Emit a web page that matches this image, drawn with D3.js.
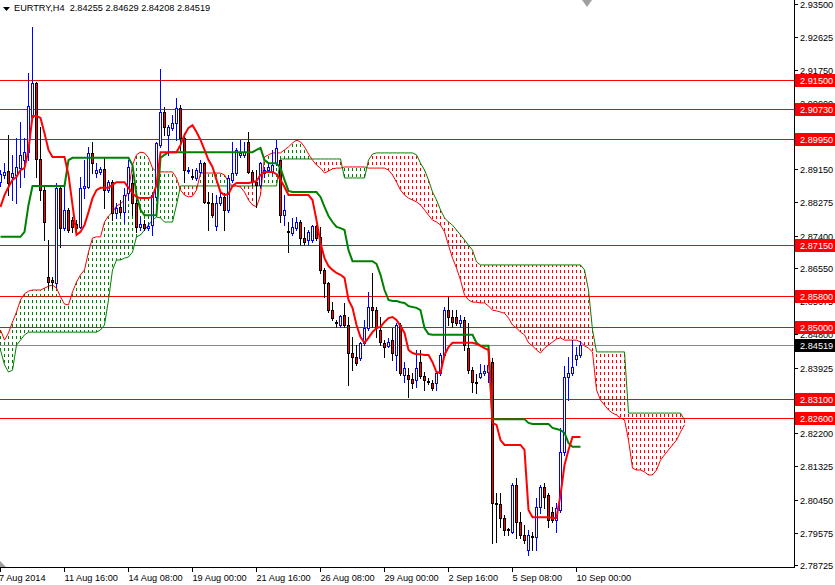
<!DOCTYPE html>
<html><head><meta charset="utf-8">
<script src="https://cdn.jsdelivr.net/npm/d3@7"></script>
<style>
body{margin:0;background:#fff;}
svg{display:block;}
text{font-family:"Liberation Sans",Arial,sans-serif;font-size:9.2px;}
</style>
</head><body><svg id="c" width="835" height="585"></svg>
<script>
const header = "EURTRY,H4  2.84255 2.84629 2.84208 2.84519";
const open = [2.8881,2.8900,2.8910,2.8895,2.8900,2.8918,2.8939,2.8960,2.9053,2.9142,
2.8942,2.8860,2.8631,2.8624,2.8615,2.8866,2.8760,2.8808,2.8781,2.8771,
2.8763,2.8866,2.8868,2.8958,2.8905,2.8908,2.8916,2.8860,2.8881,2.8800,
2.8816,2.8802,2.8852,2.8879,2.8826,2.8763,2.8771,2.8760,2.8768,2.8842,
2.8979,2.9066,2.9005,2.9024,2.9037,2.9076,2.8997,2.8910,2.8897,2.8892,
2.8908,2.8931,2.8829,2.8826,2.8766,2.8826,2.8842,2.8808,2.8887,2.8905,
2.8953,2.8953,2.8987,2.8908,2.8881,2.8874,2.8905,2.8913,2.8908,2.8931,
2.8939,2.8795,2.8753,2.8747,2.8760,2.8776,2.8734,2.8729,2.8729,2.8766,
2.8737,2.8650,2.8616,2.8544,2.8513,2.8505,2.8531,2.8505,2.8431,2.8421,
2.8418,2.8458,2.8497,2.8552,2.8544,2.8492,2.8458,2.8450,2.8465,2.8426,
2.8505,2.8373,2.8373,2.8363,2.8360,2.8408,2.8371,2.8358,2.8352,2.8352,
2.8379,2.8426,2.8544,2.8526,2.8526,2.8510,2.8518,2.8444,2.8386,2.8355,
2.8368,2.8379,2.8381,2.8408,2.8036,2.8034,2.7997,2.7968,2.7960,2.8084,
2.7986,2.7952,2.7913,2.7949,2.7947,2.8026,2.8078,2.8057,2.8013,2.7991,
2.8018,2.8170,2.8368,2.8379,2.8415,2.84255];
const high = [2.8913,2.8931,2.9005,2.8953,2.8997,2.9039,2.8997,2.9168,2.9290,2.9145,
2.9026,2.8874,2.8729,2.8632,2.8879,2.8874,2.8874,2.8813,2.8789,2.8781,
2.8895,2.8939,2.8974,2.8987,2.8931,2.8921,2.8945,2.8887,2.8887,2.8826,
2.8834,2.8866,2.8939,2.8900,2.8834,2.8789,2.8781,2.8773,2.8852,2.8987,
2.9179,2.9079,2.9032,2.9058,2.9103,2.9084,2.9010,2.8921,2.8916,2.8918,
2.8939,2.8934,2.8855,2.8852,2.8847,2.8852,2.8852,2.8900,2.8987,2.8971,
2.8992,2.8987,2.9013,2.8913,2.8913,2.8934,2.8921,2.8931,2.8966,2.8992,
2.8939,2.8847,2.8776,2.8787,2.8789,2.8781,2.8763,2.8755,2.8768,2.8768,
2.8763,2.8655,2.8618,2.8565,2.8518,2.8531,2.8563,2.8526,2.8473,2.8452,
2.8460,2.8518,2.8592,2.8642,2.8552,2.8526,2.8465,2.8471,2.8497,2.8510,
2.8510,2.8408,2.8392,2.8379,2.8439,2.8439,2.8381,2.8365,2.8360,2.8381,
2.8431,2.8552,2.8579,2.8544,2.8544,2.8531,2.8526,2.8510,2.8394,2.8376,
2.8402,2.8400,2.8413,2.8418,2.8062,2.8062,2.8005,2.7970,2.8089,2.8102,
2.8013,2.7978,2.7965,2.7960,2.8049,2.8084,2.8089,2.8062,2.8026,2.8036,
2.8234,2.8397,2.8421,2.8465,2.8447,2.84629];
const low = [2.8870,2.8892,2.8847,2.8834,2.8826,2.8868,2.8895,2.8939,2.9045,2.8895,
2.8834,2.8729,2.8603,2.8603,2.8605,2.8710,2.8755,2.8750,2.8750,2.8747,
2.8760,2.8839,2.8866,2.8905,2.8895,2.8902,2.8813,2.8855,2.8781,2.8787,
2.8795,2.8774,2.8834,2.8795,2.8750,2.8755,2.8755,2.8755,2.8742,2.8834,
2.8974,2.9005,2.8953,2.9018,2.8992,2.8966,2.8881,2.8905,2.8889,2.8887,
2.8905,2.8826,2.8755,2.8789,2.8755,2.8821,2.8755,2.8802,2.8881,2.8900,
2.8947,2.8947,2.8905,2.8874,2.8816,2.8868,2.8895,2.8908,2.8905,2.8926,
2.8776,2.8768,2.8697,2.8742,2.8755,2.8716,2.8716,2.8716,2.8724,2.8729,
2.8642,2.8579,2.8539,2.8518,2.8500,2.8500,2.8500,2.8347,2.8386,2.8400,
2.8413,2.8452,2.8492,2.8500,2.8473,2.8452,2.8421,2.8447,2.8413,2.8386,
2.8373,2.8355,2.8315,2.8339,2.8342,2.8365,2.8334,2.8350,2.8334,2.8334,
2.8373,2.8421,2.8505,2.8500,2.8505,2.8500,2.8439,2.8379,2.8329,2.8326,
2.8365,2.8373,2.8355,2.7931,2.7934,2.7973,2.7952,2.7952,2.7957,2.7944,
2.7944,2.7931,2.7899,2.7913,2.7913,2.8010,2.8023,2.7973,2.7986,2.7960,
2.8013,2.8163,2.8307,2.8373,2.8400,2.84208];
const close = [2.8902,2.8907,2.8879,2.8905,2.8921,2.8952,2.8960,2.9081,2.9142,2.8942,
2.8860,2.8776,2.8618,2.8618,2.8866,2.8760,2.8808,2.8755,2.8763,2.8760,
2.8866,2.8871,2.8958,2.8931,2.8913,2.8916,2.8860,2.8881,2.8800,2.8813,
2.8802,2.8847,2.8921,2.8826,2.8763,2.8771,2.8760,2.8766,2.8847,2.8984,
2.9066,2.9026,2.9026,2.9037,2.9076,2.8997,2.8913,2.8913,2.8895,2.8913,
2.8931,2.8829,2.8826,2.8795,2.8826,2.8842,2.8808,2.8892,2.8905,2.8966,
2.8958,2.8960,2.8908,2.8881,2.8874,2.8931,2.8913,2.8921,2.8926,2.8971,
2.8795,2.8808,2.8750,2.8763,2.8776,2.8734,2.8724,2.8750,2.8766,2.8734,
2.8650,2.8616,2.8544,2.8523,2.8510,2.8529,2.8505,2.8431,2.8421,2.8405,
2.8458,2.8497,2.8552,2.8544,2.8497,2.8460,2.8447,2.8460,2.8431,2.8505,
2.8379,2.8392,2.8363,2.8352,2.8392,2.8371,2.8360,2.8355,2.8339,2.8379,
2.8426,2.8544,2.8526,2.8513,2.8510,2.8518,2.8452,2.8386,2.8355,2.8352,
2.8379,2.8384,2.8400,2.8036,2.8034,2.7997,2.7965,2.7965,2.8084,2.7986,
2.7952,2.7939,2.7952,2.7947,2.8026,2.8078,2.8052,2.7991,2.7991,2.8023,
2.8170,2.8368,2.8379,2.8394,2.8426,2.84519];
const tenkan = [2.8816,2.8847,2.8868,2.8887,2.8895,2.8913,2.8918,2.8966,2.9055,2.9055,
2.9050,2.9010,2.8966,2.8947,2.8947,2.8947,2.8947,2.8900,2.8821,2.8742,
2.8750,2.8768,2.8802,2.8839,2.8860,2.8866,2.8866,2.8866,2.8874,2.8881,
2.8881,2.8881,2.8866,2.8852,2.8842,2.8839,2.8839,2.8839,2.8842,2.8874,
2.8960,2.8960,2.8960,2.8960,2.8960,2.8979,2.9005,2.9024,2.9031,2.9013,
2.8992,2.8966,2.8939,2.8921,2.8887,2.8855,2.8847,2.8850,2.8871,2.8879,
2.8879,2.8879,2.8879,2.8881,2.8884,2.8900,2.8908,2.8908,2.8908,2.8902,
2.8887,2.8868,2.8847,2.8847,2.8847,2.8847,2.8847,2.8847,2.8834,2.8781,
2.8721,2.8681,2.8660,2.8650,2.8642,2.8637,2.8629,2.8571,2.8550,2.8505,
2.8473,2.8458,2.8471,2.8486,2.8497,2.8500,2.8513,2.8523,2.8526,2.8518,
2.8502,2.8484,2.8439,2.8431,2.8428,2.8428,2.8426,2.8426,2.8407,2.8381,
2.8379,2.8426,2.8447,2.8458,2.8458,2.8458,2.8458,2.8458,2.8458,2.8455,
2.8450,2.8444,2.8439,2.8247,2.8242,2.8202,2.8189,2.8189,2.8189,2.8189,
2.8189,2.8176,2.8018,2.7999,2.7999,2.7999,2.7999,2.7999,2.7997,2.7997,
2.8057,2.8136,2.8176,2.8210,2.8210,2.8210];
const kijun = [2.8737,2.8737,2.8737,2.8737,2.8737,2.8737,2.8750,2.8821,2.8871,2.8871,
2.8871,2.8871,2.8871,2.8871,2.8871,2.8871,2.8871,2.8939,2.8945,2.8945,
2.8945,2.8945,2.8945,2.8945,2.8945,2.8945,2.8945,2.8945,2.8945,2.8945,
2.8945,2.8945,2.8945,2.8926,2.8847,2.8808,2.8794,2.8794,2.8794,2.8794,
2.8945,2.8953,2.8960,2.8960,2.8960,2.8960,2.8960,2.8960,2.8960,2.8960,
2.8960,2.8960,2.8960,2.8960,2.8960,2.8960,2.8960,2.8960,2.8960,2.8960,
2.8960,2.8960,2.8960,2.8960,2.8966,2.8971,2.8939,2.8931,2.8931,2.8931,
2.8918,2.8887,2.8858,2.8855,2.8855,2.8855,2.8855,2.8855,2.8855,2.8855,
2.8842,2.8816,2.8792,2.8776,2.8763,2.8760,2.8755,2.8702,2.8673,2.8673,
2.8673,2.8673,2.8673,2.8673,2.8666,2.8637,2.8597,2.8571,2.8568,2.8568,
2.8565,2.8563,2.8555,2.8552,2.8550,2.8544,2.8497,2.8481,2.8479,2.8479,
2.8479,2.8479,2.8479,2.8479,2.8479,2.8479,2.8479,2.8479,2.8479,2.8458,
2.8450,2.8450,2.8450,2.8257,2.8257,2.8257,2.8257,2.8257,2.8257,2.8257,
2.8257,2.8257,2.8247,2.8244,2.8244,2.8244,2.8244,2.8244,2.8234,2.8231,
2.8228,2.8221,2.8194,2.8184,2.8184,2.8184];
const spanA = [2.8492,2.8465,2.8484,2.8513,2.8539,2.8571,2.8587,2.8594,2.8597,2.8597,
2.8597,2.8602,2.8607,2.8610,2.8602,2.8579,2.8560,2.8558,2.8592,2.8618,
2.8637,2.8650,2.8697,2.8734,2.8737,2.8737,2.8776,2.8792,2.8802,2.8818,
2.8824,2.8834,2.8860,2.8926,2.8953,2.8960,2.8958,2.8945,2.8918,2.8908,
2.8908,2.8908,2.8908,2.8908,2.8892,2.8860,2.8847,2.8842,2.8844,2.8860,
2.8905,2.8905,2.8905,2.8905,2.8905,2.8905,2.8900,2.8881,2.8871,2.8871,
2.8868,2.8855,2.8834,2.8821,2.8816,2.8847,2.8947,2.8953,2.8958,2.8958,
2.8958,2.8966,2.8974,2.8984,2.8992,2.8987,2.8974,2.8955,2.8939,2.8926,
2.8918,2.8905,2.8910,2.8916,2.8918,2.8918,2.8921,2.8921,2.8921,2.8921,
2.8921,2.8921,2.8918,2.8918,2.8918,2.8918,2.8918,2.8913,2.8900,2.8881,
2.8860,2.8847,2.8839,2.8834,2.8829,2.8821,2.8808,2.8794,2.8781,2.8776,
2.8768,2.8750,2.8715,2.8681,2.8655,2.8623,2.8584,2.8571,2.8565,2.8565,
2.8563,2.8563,2.8555,2.8544,2.8542,2.8539,2.8536,2.8523,2.8505,2.8497,
2.8486,2.8479,2.8458,2.8450,2.8439,2.8431,2.8444,2.8452,2.8460,2.8468,
2.8471,2.8465,2.8465,2.8465,2.8465,2.8460,2.8450,2.8444,2.8434,2.8334,
2.8307,2.8294,2.8281,2.8273,2.8268,2.8260,2.8255,2.8202,2.8128,2.8123,
2.8123,2.8118,2.8110,2.8110,2.8123,2.8149,2.8163,2.8176,2.8189,2.8202,
2.8223,2.8242];
const spanB = [2.8439,2.8400,2.8381,2.8386,2.8452,2.8465,2.8479,2.8486,2.8486,2.8486,
2.8486,2.8486,2.8486,2.8486,2.8486,2.8486,2.8486,2.8486,2.8486,2.8486,
2.8486,2.8486,2.8486,2.8486,2.8486,2.8492,2.8505,2.8571,2.8650,2.8676,
2.8676,2.8681,2.8684,2.8697,2.8737,2.8742,2.8755,2.8768,2.8781,2.8789,
2.8787,2.8776,2.8776,2.8776,2.8821,2.8871,2.8871,2.8871,2.8871,2.8871,
2.8871,2.8871,2.8871,2.8871,2.8871,2.8871,2.8871,2.8871,2.8871,2.8871,
2.8871,2.8871,2.8871,2.8871,2.8871,2.8871,2.8871,2.8871,2.8871,2.8871,
2.8942,2.8942,2.8942,2.8942,2.8942,2.8942,2.8942,2.8942,2.8942,2.8942,
2.8942,2.8942,2.8942,2.8942,2.8942,2.8942,2.8892,2.8892,2.8892,2.8892,
2.8892,2.8892,2.8939,2.8955,2.8958,2.8958,2.8958,2.8958,2.8958,2.8958,
2.8958,2.8958,2.8958,2.8958,2.8953,2.8931,2.8913,2.8887,2.8855,2.8834,
2.8808,2.8787,2.8776,2.8768,2.8755,2.8742,2.8729,2.8715,2.8702,2.8671,
2.8663,2.8663,2.8663,2.8663,2.8663,2.8663,2.8663,2.8663,2.8663,2.8663,
2.8663,2.8663,2.8663,2.8663,2.8663,2.8663,2.8663,2.8663,2.8663,2.8663,
2.8663,2.8663,2.8663,2.8663,2.8663,2.8663,2.8650,2.8597,2.8492,2.8434,
2.8434,2.8434,2.8434,2.8434,2.8434,2.8434,2.8434,2.8273,2.8273,2.8273,
2.8273,2.8273,2.8273,2.8273,2.8273,2.8273,2.8273,2.8273,2.8273,2.8273,
2.8273,2.8255];
const levels = [2.9150,2.9073,2.8995,2.8715,2.8580,2.8500,2.8310,2.8260];
const lastPrice = 2.84519;
const priceTicks = [2.93500,2.92625,2.91750,2.90900,2.90025,2.89150,2.88275,2.87400,2.86550,2.85675,2.84800,2.83925,2.83050,2.82200,2.81325,2.80450,2.79575,2.78725];
const timeLabels = ["7 Aug 2014","11 Aug 16:00","14 Aug 08:00","19 Aug 00:00","21 Aug 16:00","26 Aug 08:00","29 Aug 00:00","2 Sep 16:00","5 Sep 08:00","10 Sep 00:00"];
const timeBars = [0,16,32,48,64,80,96,112,128,144];

const RED="#ff0000", GREEN="#008000", BLUE="#0000ff";
const plotR = 794, plotB = 567;
const svg = d3.select("#c");
const x = d3.scaleLinear().domain([0, 1]).range([0, 4]);
const y = d3.scaleLinear().domain([2.78677, 2.93606]).range([plotB, 0]);
const px = i => Math.round(x(i)) + 0.5;
const py = v => Math.round(y(v)) + 0.5;
const fmt = d3.format(".5f");

svg.append("defs").append("clipPath").attr("id","plot")
  .append("rect").attr("x",0).attr("y",0).attr("width",plotR).attr("height",plotB);
const g = svg.append("g").attr("clip-path","url(#plot)");

// horizontal levels
g.selectAll("line.lvl").data(levels).join("line")
  .attr("x1",0).attr("x2",plotR).attr("y1",d=>py(d)).attr("y2",d=>py(d))
  .attr("stroke",RED).attr("stroke-width",1);
g.append("line").attr("x1",0).attr("x2",plotR).attr("y1",py(lastPrice)).attr("y2",py(lastPrice))
  .attr("stroke","#8a8a8a").attr("stroke-width",1);

// cloud hatch
const cloudIdx = d3.range(spanA.length);
g.selectAll("line.kumo").data(cloudIdx).join("line")
  .attr("x1",i=>px(i)).attr("x2",i=>px(i))
  .attr("y1",i=>Math.round(y(Math.max(spanA[i],spanB[i]))))
  .attr("y2",i=>Math.round(y(Math.min(spanA[i],spanB[i]))))
  .attr("stroke",i=>spanA[i]>=spanB[i]?GREEN:RED)
  .attr("stroke-width",1)
  .attr("stroke-dasharray","3,3")
  .attr("stroke-dashoffset",i=>Math.round(y(Math.max(spanA[i],spanB[i])))%6);

const line = d3.line().x((d,i)=>px(i)).y(d=>y(d));
g.append("path").attr("d",line(spanB)).attr("fill","none").attr("stroke",GREEN).attr("stroke-width",1);
g.append("path").attr("d",line(spanA)).attr("fill","none").attr("stroke",RED).attr("stroke-width",1);

// candles
const idx = d3.range(open.length);
g.selectAll("line.wick").data(idx).join("line")
  .attr("x1",i=>px(i)).attr("x2",i=>px(i))
  .attr("y1",i=>Math.round(y(high[i]))).attr("y2",i=>Math.round(y(low[i]))+1)
  .attr("stroke",i=>close[i]>open[i]?BLUE:"#000").attr("stroke-width",1);
g.selectAll("rect.body").data(idx.filter(i=>Math.abs(py(open[i])-py(close[i]))>=1)).join("rect")
  .attr("x",i=>px(i)-1).attr("width",2)
  .attr("y",i=>py(Math.max(open[i],close[i])))
  .attr("height",i=>Math.abs(py(open[i])-py(close[i])))
  .attr("fill",i=>close[i]>open[i]?"#fff":RED)
  .attr("stroke",i=>close[i]>open[i]?BLUE:"#000").attr("stroke-width",1);
g.selectAll("line.doji").data(idx.filter(i=>Math.abs(py(open[i])-py(close[i]))<1)).join("line")
  .attr("x1",i=>px(i)-1.5).attr("x2",i=>px(i)+1.5)
  .attr("y1",i=>py(close[i])).attr("y2",i=>py(close[i]))
  .attr("stroke","#000").attr("stroke-width",1);

// tenkan / kijun
g.append("path").attr("d",line(kijun)).attr("fill","none").attr("stroke",GREEN).attr("stroke-width",2);
g.append("path").attr("d",line(tenkan)).attr("fill","none").attr("stroke",RED).attr("stroke-width",2);

// axes frame
svg.append("line").attr("x1",plotR+0.5).attr("x2",plotR+0.5).attr("y1",0).attr("y2",plotB+1).attr("stroke","#000");
svg.append("line").attr("x1",0).attr("x2",plotR+1).attr("y1",plotB+0.5).attr("y2",plotB+0.5).attr("stroke","#000");

// price axis
const ax = svg.append("g");
priceTicks.forEach(v=>{
  const yy = py(v);
  ax.append("line").attr("x1",plotR+1).attr("x2",plotR+4).attr("y1",yy).attr("y2",yy).attr("stroke","#000");
  ax.append("text").attr("x",800).attr("y",Math.round(y(v))+3.5).attr("fill","#000").text(fmt(v));
});
levels.forEach(v=>{
  const yy = Math.round(y(v));
  ax.append("rect").attr("x",795).attr("y",yy-6).attr("width",40).attr("height",13).attr("fill",RED);
  ax.append("text").attr("x",800).attr("y",yy+4).attr("fill","#fff").text(fmt(v));
});
{
  const yy = Math.round(y(lastPrice));
  ax.append("rect").attr("x",795).attr("y",yy-6).attr("width",40).attr("height",13).attr("fill","#000");
  ax.append("text").attr("x",800).attr("y",yy+4).attr("fill","#fff").text(fmt(lastPrice));
}

// time axis
timeBars.forEach((b,k)=>{
  const xx = px(b);
  svg.append("line").attr("x1",xx).attr("x2",xx).attr("y1",plotB+1).attr("y2",plotB+5).attr("stroke","#000");
  svg.append("text").attr("x",k===0?-1:xx).attr("y",581).attr("fill","#000").text(timeLabels[k]);
});

// header
svg.append("path").attr("d","M3,7 L10,7 L6.5,11 Z").attr("fill","#000");
svg.append("text").attr("x",14).attr("y",11).attr("fill","#000").attr("xml:space","preserve").style("white-space","pre").text(header);

// markers
svg.append("path").attr("d","M582,0 L592,0 L587,7 Z").attr("fill","#a0a0a0");
svg.append("path").attr("d","M0,561 L6,567 L0,567 Z").attr("fill","#a0a0a0");
</script>
</body></html>
